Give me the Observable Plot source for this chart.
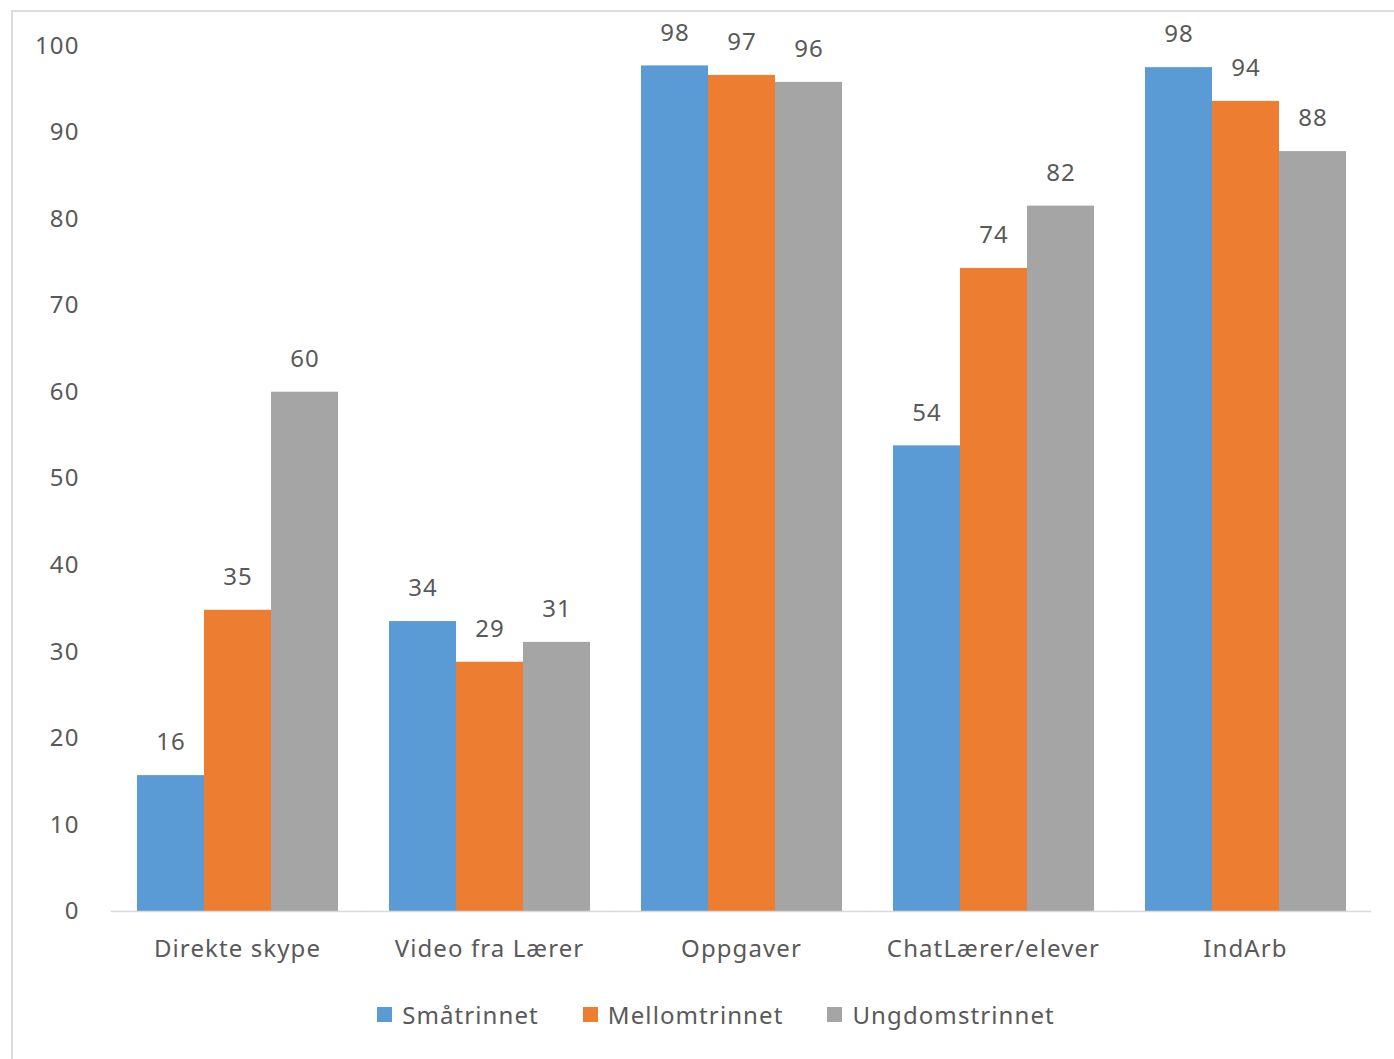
<!DOCTYPE html>
<html><head><meta charset="utf-8">
<script src="https://cdn.jsdelivr.net/npm/d3@7"></script>
<script src="https://cdn.jsdelivr.net/npm/@observablehq/plot@0.6"></script>
<style>
body{margin:0;background:#fff;font-family:"Noto Sans",sans-serif;}
#frame{position:absolute;left:11px;top:10px;width:1400px;height:1100px;border-top:2px solid #dcdcdc;border-left:2px solid #dcdcdc;z-index:2;pointer-events:none;}
#chart{position:absolute;left:0;top:0;z-index:1;}
#legend{position:absolute;top:998px;left:0;width:1432px;display:flex;justify-content:center;gap:44px;font-size:24px;letter-spacing:1.1px;color:#595959;z-index:1;}
#legend .item{display:flex;align-items:center;}
#legend .sw{width:15px;height:15px;margin-right:10px;}
</style></head>
<body>
<div id="frame"></div>
<div id="chart"></div>
<div id="legend"></div>
<script>
const categories = ["Direkte skype", "Video fra Lærer", "Oppgaver", "ChatLærer/elever", "IndArb"];
const series = ["Småtrinnet", "Mellomtrinnet", "Ungdomstrinnet"];
const smaatrinnet = [15.7, 33.5, 97.7, 53.8, 97.5];
const mellomtrinnet = [34.8, 28.8, 96.6, 74.3, 93.6];
const ungdomstrinnet = [60.0, 31.1, 95.8, 81.5, 87.8];
const colors = ["#5B9BD5", "#ED7D31", "#A5A5A5"];
const yTicks = [0, 10, 20, 30, 40, 50, 60, 70, 80, 90, 100];

const seriesValues = [smaatrinnet, mellomtrinnet, ungdomstrinnet];
const data = [];
categories.forEach((c, i) => series.forEach((s, j) => data.push({category: c, series: s, value: seriesValues[j][i]})));

const chart = Plot.plot({
  width: 1394,
  height: 970,
  marginLeft: 110,
  marginRight: 22,
  marginTop: 45.5,
  marginBottom: 59,
  style: {fontFamily: "'Noto Sans', sans-serif", fontSize: "24px", color: "#595959", background: "transparent", overflow: "visible", letterSpacing: "1.1px"},
  fx: {domain: categories, paddingInner: 0.2, paddingOuter: 0.1, label: null, axis: "bottom", tickSize: 0, tickPadding: 28},
  x: {domain: series, padding: 0, axis: null},
  y: {domain: [0, 100], ticks: yTicks, tickSize: 0, tickPadding: 57, label: null},
  color: {domain: series, range: colors},
  marks: [
    Plot.barY(data, {fx: "category", x: "series", y: "value", fill: "series"}),
    Plot.ruleY([0], {stroke: "#d9d9d9", strokeWidth: 1.5, insetLeft: -25.2, insetRight: -25.2}),
    Plot.text(data, {fx: "category", x: "series", y: "value", text: d => String(Math.round(d.value)), dy: -33, lineAnchor: "middle", fill: "#595959", fontSize: 24})
  ]
});
document.getElementById("chart").appendChild(chart);

const legend = document.getElementById("legend");
series.forEach((s, i) => {
  const item = document.createElement("div");
  item.className = "item";
  const sw = document.createElement("div");
  sw.className = "sw";
  sw.style.background = colors[i];
  const t = document.createElement("span");
  t.textContent = s;
  item.appendChild(sw);
  item.appendChild(t);
  legend.appendChild(item);
});
</script>
</body></html>
